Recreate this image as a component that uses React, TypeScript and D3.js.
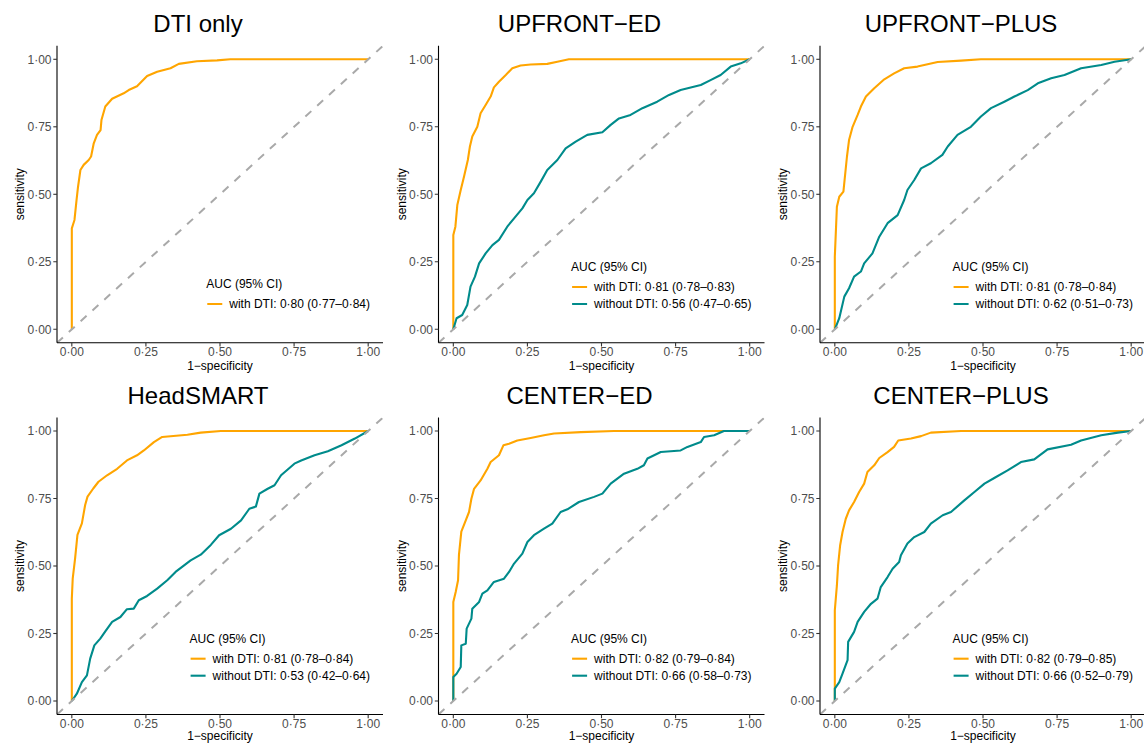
import React from "react";
import * as d3 from "d3";

const ORANGE = "#FFA500";
const TEAL = "#008B8B";

const tickValues = [0, 0.25, 0.5, 0.75, 1];
const tickLabels = ["0·00", "0·25", "0·50", "0·75", "1·00"];

const panelTitles = ["DTI only", "UPFRONT−ED", "UPFRONT−PLUS", "HeadSMART", "CENTER−ED", "CENTER−PLUS"];

const withLabels = [
  "with DTI: 0·80 (0·77–0·84)",
  "with DTI: 0·81 (0·78–0·83)",
  "with DTI: 0·81 (0·78–0·84)",
  "with DTI: 0·81 (0·78–0·84)",
  "with DTI: 0·82 (0·79–0·84)",
  "with DTI: 0·82 (0·79–0·85)",
];
const withoutLabels = [
  null,
  "without DTI: 0·56 (0·47–0·65)",
  "without DTI: 0·62 (0·51–0·73)",
  "without DTI: 0·53 (0·42–0·64)",
  "without DTI: 0·66 (0·58–0·73)",
  "without DTI: 0·66 (0·52–0·79)",
];

// [1-specificity, sensitivity]
const dtiOnlyWith: [number, number][] = [
  [0, 0], [0, 0.374], [0.009, 0.405], [0.016, 0.479], [0.021, 0.528], [0.029, 0.59], [0.04, 0.609],
  [0.057, 0.627], [0.065, 0.64], [0.074, 0.689], [0.085, 0.72], [0.097, 0.738], [0.1, 0.775],
  [0.113, 0.825], [0.136, 0.854], [0.175, 0.874], [0.192, 0.886], [0.22, 0.9], [0.254, 0.938],
  [0.288, 0.954], [0.333, 0.967], [0.361, 0.983], [0.422, 0.993], [0.49, 0.996], [0.535, 1], [1, 1],
];

const upfrontEdWith: [number, number][] = [
  [0, 0], [0, 0.349], [0.007, 0.38], [0.0135, 0.46], [0.025, 0.516], [0.036, 0.565], [0.049, 0.627],
  [0.056, 0.677], [0.064, 0.714], [0.081, 0.75], [0.092, 0.8], [0.109, 0.831], [0.126, 0.862],
  [0.137, 0.896], [0.154, 0.917], [0.177, 0.942], [0.199, 0.967], [0.227, 0.977], [0.261, 0.981],
  [0.317, 0.983], [0.351, 0.991], [0.39, 1], [1, 1],
];
const upfrontEdWithout: [number, number][] = [
  [0, 0], [0.011, 0.041], [0.03, 0.053], [0.047, 0.09], [0.058, 0.158], [0.073, 0.195], [0.087, 0.244],
  [0.109, 0.281], [0.132, 0.312], [0.154, 0.331], [0.182, 0.38], [0.205, 0.411], [0.233, 0.448],
  [0.25, 0.479], [0.272, 0.504], [0.295, 0.547], [0.317, 0.59], [0.351, 0.627], [0.379, 0.67],
  [0.413, 0.695], [0.452, 0.72], [0.503, 0.73], [0.531, 0.757], [0.559, 0.781], [0.598, 0.794],
  [0.638, 0.819], [0.688, 0.843], [0.728, 0.868], [0.767, 0.886], [0.835, 0.905], [0.868, 0.923],
  [0.902, 0.942], [0.936, 0.973], [0.97, 0.985], [1, 1],
];

const upfrontPlusWith: [number, number][] = [
  [0, 0], [0, 0.269], [0.007, 0.454], [0.015, 0.491], [0.029, 0.51], [0.041, 0.64], [0.048, 0.701],
  [0.06, 0.75], [0.077, 0.794], [0.088, 0.825], [0.105, 0.862], [0.133, 0.893], [0.167, 0.926],
  [0.2, 0.948], [0.234, 0.967], [0.279, 0.973], [0.347, 0.99], [0.426, 0.995], [0.493, 1], [1, 1],
];
const upfrontPlusWithout: [number, number][] = [
  [0, 0], [0.015, 0.041], [0.032, 0.121], [0.048, 0.152], [0.065, 0.195], [0.088, 0.214], [0.099, 0.244],
  [0.127, 0.281], [0.15, 0.343], [0.178, 0.393], [0.212, 0.423], [0.234, 0.479], [0.245, 0.516],
  [0.268, 0.553], [0.291, 0.596], [0.324, 0.615], [0.363, 0.646], [0.381, 0.677], [0.414, 0.72],
  [0.459, 0.75], [0.493, 0.788], [0.527, 0.819], [0.572, 0.843], [0.606, 0.862], [0.651, 0.886],
  [0.685, 0.911], [0.73, 0.93], [0.775, 0.942], [0.831, 0.967], [0.899, 0.979], [0.944, 0.991], [1, 1],
];

const headSmartWith: [number, number][] = [
  [0, 0], [0, 0.379], [0.003, 0.453], [0.011, 0.527], [0.019, 0.615], [0.034, 0.658], [0.045, 0.726],
  [0.053, 0.757], [0.073, 0.788], [0.09, 0.812], [0.119, 0.836], [0.153, 0.86], [0.186, 0.891],
  [0.22, 0.91], [0.243, 0.928], [0.277, 0.959], [0.305, 0.978], [0.39, 0.986], [0.435, 0.994],
  [0.503, 1], [1, 1],
];
const headSmartWithout: [number, number][] = [
  [0, 0], [0.017, 0.027], [0.034, 0.07], [0.051, 0.095], [0.062, 0.157], [0.076, 0.206], [0.096, 0.231],
  [0.113, 0.258], [0.136, 0.293], [0.164, 0.311], [0.186, 0.34], [0.209, 0.342], [0.226, 0.373],
  [0.254, 0.389], [0.288, 0.416], [0.322, 0.447], [0.35, 0.478], [0.401, 0.521], [0.435, 0.542],
  [0.469, 0.578], [0.497, 0.614], [0.537, 0.638], [0.571, 0.669], [0.599, 0.712], [0.621, 0.72],
  [0.633, 0.768], [0.661, 0.786], [0.684, 0.799], [0.706, 0.836], [0.751, 0.879], [0.774, 0.891],
  [0.819, 0.91], [0.864, 0.925], [0.91, 0.947], [0.955, 0.972], [1, 1],
];

const centerEdWith: [number, number][] = [
  [0, 0], [0, 0.367], [0.008, 0.404], [0.016, 0.447], [0.019, 0.541], [0.027, 0.627], [0.042, 0.669],
  [0.053, 0.7], [0.061, 0.749], [0.07, 0.786], [0.092, 0.817], [0.115, 0.86], [0.126, 0.885],
  [0.154, 0.91], [0.169, 0.947], [0.188, 0.953], [0.216, 0.965], [0.261, 0.974], [0.306, 0.984],
  [0.34, 0.991], [0.43, 0.996], [0.542, 1], [1, 1],
];
const centerEdWithout: [number, number][] = [
  [0, 0], [0, 0.089], [0.011, 0.101], [0.025, 0.126], [0.027, 0.206], [0.042, 0.212], [0.045, 0.268],
  [0.061, 0.305], [0.064, 0.342], [0.087, 0.367], [0.098, 0.398], [0.115, 0.41], [0.137, 0.441],
  [0.171, 0.453], [0.188, 0.478], [0.205, 0.509], [0.233, 0.546], [0.25, 0.589], [0.272, 0.614],
  [0.306, 0.638], [0.334, 0.657], [0.362, 0.7], [0.385, 0.71], [0.424, 0.737], [0.475, 0.756],
  [0.503, 0.768], [0.531, 0.805], [0.576, 0.842], [0.621, 0.86], [0.643, 0.873], [0.655, 0.898],
  [0.7, 0.922], [0.767, 0.928], [0.79, 0.941], [0.835, 0.959], [0.846, 0.978], [0.88, 0.984],
  [0.913, 1], [1, 1],
];

const centerPlusWith: [number, number][] = [
  [0, 0], [0, 0.336], [0.007, 0.428], [0.011, 0.502], [0.018, 0.577], [0.026, 0.626], [0.037, 0.675],
  [0.048, 0.706], [0.065, 0.737], [0.082, 0.774], [0.099, 0.805], [0.11, 0.848], [0.133, 0.873],
  [0.15, 0.9], [0.178, 0.922], [0.2, 0.941], [0.214, 0.965], [0.257, 0.972], [0.291, 0.981],
  [0.324, 0.994], [0.426, 1], [1, 1],
];
const centerPlusWithout: [number, number][] = [
  [0, 0], [0, 0.046], [0.015, 0.07], [0.026, 0.101], [0.043, 0.151], [0.045, 0.219], [0.065, 0.256],
  [0.077, 0.293], [0.099, 0.33], [0.122, 0.36], [0.144, 0.379], [0.155, 0.422], [0.178, 0.459],
  [0.195, 0.49], [0.217, 0.515], [0.223, 0.54], [0.245, 0.583], [0.268, 0.607], [0.302, 0.626],
  [0.324, 0.657], [0.364, 0.688], [0.392, 0.7], [0.437, 0.743], [0.471, 0.774], [0.505, 0.805],
  [0.538, 0.826], [0.583, 0.854], [0.628, 0.885], [0.673, 0.895], [0.718, 0.932], [0.797, 0.949],
  [0.831, 0.965], [0.899, 0.984], [0.955, 0.994], [1, 1],
];

const withData = [dtiOnlyWith, upfrontEdWith, upfrontPlusWith, headSmartWith, centerEdWith, centerPlusWith];
const withoutData = [null, upfrontEdWithout, upfrontPlusWithout, headSmartWithout, centerEdWithout, centerPlusWithout];

const W = 1144;
const H = 744;
const CELL_W = 381.5;
const CELL_H = 371.7;
const FONT = "'Liberation Sans', Arial, Helvetica, sans-serif";

let measureCtx: CanvasRenderingContext2D | null = null;
function textWidth(s: string, size: number): number {
  if (!measureCtx) {
    const c = document.createElement("canvas");
    measureCtx = c.getContext("2d");
  }
  if (!measureCtx) return s.length * size * 0.55;
  measureCtx.font = `${size}px ${FONT}`;
  return measureCtx.measureText(s).width;
}

function Panel({ idx }: { idx: number }) {
  const col = idx % 3;
  const row = Math.floor(idx / 3);
  const ox = col * CELL_W;
  const oy = row * CELL_H;

  const left = 57;
  const right = 383;
  const top = 45.8;
  const bottom = 342.8;

  const x = d3.scaleLinear().domain([-0.05, 1.05]).range([left, right]);
  const y = d3.scaleLinear().domain([-0.05, 1.05]).range([bottom, top]);
  const line = d3
    .line<[number, number]>()
    .x((d) => x(d[0]))
    .y((d) => y(d[1]));

  const series: { label: string; color: string; data: [number, number][] }[] = [
    { label: withLabels[idx], color: ORANGE, data: withData[idx] },
  ];
  if (withoutData[idx] && withoutLabels[idx]) {
    series.push({ label: withoutLabels[idx] as string, color: TEAL, data: withoutData[idx] as [number, number][] });
  }

  const maxW = Math.max(...series.map((s) => textWidth(s.label, 12)));
  const textEnd = 370;
  const legLeft = textEnd - maxW - 23;
  const lastRowY = 304;
  const rowGap = 17;
  const titleY = lastRowY - (series.length - 1) * rowGap - 20;

  const clipId = `clip-${idx}`;
  const panelClip = `pclip-${idx}`;
  const xLabelY = row === 1 ? 368.5 : 370;

  return (
    <g transform={`translate(${ox},${oy})`} clipPath={`url(#${clipId})`}>
      <defs>
        <clipPath id={clipId}>
          <rect x={0} y={0} width={col === 2 ? W - ox : CELL_W + 3} height={CELL_H + 2} />
        </clipPath>
        <clipPath id={panelClip}>
          <rect x={left} y={top} width={right - left} height={bottom - top} />
        </clipPath>
      </defs>
      <text x={198} y={32} fontSize={24} fontFamily={FONT} textAnchor="middle" fill="#000">
        {panelTitles[idx]}
      </text>
      <g clipPath={`url(#${panelClip})`}>
        {series.map((s, i) => (
          <path key={i} d={line(s.data) || ""} fill="none" stroke={s.color} strokeWidth={2.1} strokeLinejoin="round" />
        ))}
        <line
          x1={x(-0.05)}
          y1={y(-0.05)}
          x2={x(1.05)}
          y2={y(1.05)}
          stroke="#A9A9A9"
          strokeWidth={2}
          strokeDasharray="8,8"
        />
      </g>
      {/* axes */}
      <line x1={left} y1={top} x2={left} y2={bottom} stroke="#000" strokeWidth={1.1} />
      <line x1={left} y1={bottom} x2={right} y2={bottom} stroke="#000" strokeWidth={1.1} />
      {tickValues.map((v, i) => (
        <g key={`y${i}`}>
          <line x1={left - 3.7} x2={left} y1={y(v)} y2={y(v)} stroke="#333" strokeWidth={1.1} />
          <text x={left - 5.5} y={y(v) + 4.2} fontSize={12} fontFamily={FONT} textAnchor="end" fill="#4D4D4D">
            {tickLabels[i]}
          </text>
        </g>
      ))}
      {tickValues.map((v, i) => (
        <g key={`x${i}`}>
          <line x1={x(v)} x2={x(v)} y1={bottom} y2={bottom + 3.7} stroke="#333" strokeWidth={1.1} />
          <text x={x(v)} y={bottom + 13.5} fontSize={12} fontFamily={FONT} textAnchor="middle" fill="#4D4D4D">
            {tickLabels[i]}
          </text>
        </g>
      ))}
      <text
        transform={`translate(${24},${(top + bottom) / 2}) rotate(-90)`}
        fontSize={12}
        fontFamily={FONT}
        textAnchor="middle"
        fill="#000"
      >
        sensitivity
      </text>
      <text x={(left + right) / 2} y={xLabelY} fontSize={12} fontFamily={FONT} textAnchor="middle" fill="#000">
        1−specificity
      </text>
      {/* legend */}
      <text x={legLeft} y={titleY + 4} fontSize={12} fontFamily={FONT} fill="#000">
        AUC (95% CI)
      </text>
      {series.map((s, i) => {
        const ry = lastRowY - (series.length - 1 - i) * rowGap;
        return (
          <g key={`l${i}`}>
            <line x1={legLeft + 1} x2={legLeft + 16} y1={ry} y2={ry} stroke={s.color} strokeWidth={2.1} />
            <text x={legLeft + 23} y={ry + 4.2} fontSize={12} fontFamily={FONT} fill="#000">
              {s.label}
            </text>
          </g>
        );
      })}
    </g>
  );
}

export default function App() {
  return (
    <svg
      width={W}
      height={H}
      viewBox={`0 0 ${W} ${H}`}
      style={{ position: "absolute", left: 0, top: 0, background: "#fff" }}
    >
      <rect x={0} y={0} width={W} height={H} fill="#fff" />
      {[0, 1, 2, 3, 4, 5].map((i) => (
        <Panel key={i} idx={i} />
      ))}
    </svg>
  );
}
